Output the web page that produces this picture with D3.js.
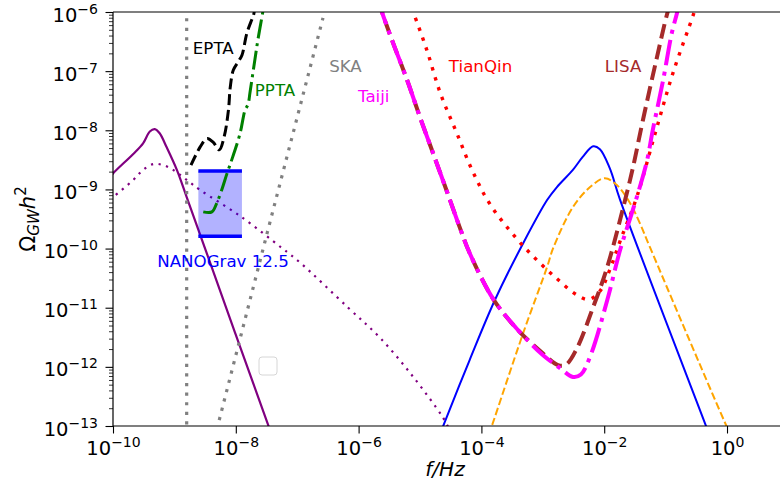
<!DOCTYPE html>
<html>
<head>
<meta charset="utf-8">
<script src="https://cdn.jsdelivr.net/npm/d3@7"></script>
<style>
  html, body { margin: 0; padding: 0; background: #fff; }
  svg { display: block; font-family: "DejaVu Sans", sans-serif; }
</style>
</head>
<body>
<svg id="chart" width="780" height="487"></svg>
<script>
// ---- Data: each point is [log10(f / Hz), log10(Omega_GW h^2)] ----
const modelSolid = [[-10.05,-8.80],[-10.0,-8.73],[-9.67,-8.40],[-9.51,-8.22],[-9.40,-8.02],[-9.32,-7.98],[-9.24,-8.05],
  [-9.13,-8.28],[-8.96,-8.67],[-8.80,-9.13],[-8.50,-10.00],[-7.46,-13.02],[-7.41,-13.15]];
const modelDotted = [[-10.05,-9.17],[-10.0,-9.13],[-9.67,-8.84],[-9.51,-8.67],[-9.34,-8.57],[-9.18,-8.59],[-9.02,-8.67],
  [-8.80,-8.84],[-8.58,-9.01],[-7.93,-9.45],[-7.25,-9.99],[-6.95,-10.24],[-6.17,-11.00],[-5.65,-11.51],
  [-5.11,-12.17],[-4.63,-12.85],[-4.54,-13.02]];
const ptaCutoff = [[-8.80,-13.3],[-8.80,-5.8]];
const ska = [[-8.27,-12.90],[-7.49,-9.74],[-6.58,-6.10]];
const epta = [[-8.73,-8.59],[-8.58,-8.28],[-8.47,-8.14],[-8.37,-8.20],[-8.27,-8.33],[-8.19,-8.11],
  [-8.12,-7.66],[-8.09,-7.27],[-8.04,-6.98],[-7.96,-6.84],[-7.90,-6.73],[-7.82,-6.36],[-7.74,-6.13],
  [-7.71,-6.05],[-7.69,-5.90]];
const ppta = [[-8.53,-9.38],[-8.39,-9.38],[-8.31,-9.23],[-8.23,-9.01],[-8.14,-8.72],[-8.05,-8.45],
  [-7.93,-8.05],[-7.85,-7.66],[-7.80,-7.56],[-7.77,-7.37],[-7.69,-6.81],[-7.64,-6.47],[-7.56,-6.00],[-7.54,-5.88]];
const nanogravF = [-8.61, -7.90];
const nanogravOmega = [-9.79, -8.69];
const blueModel = [[-4.69,-13.18],[-4.63,-13.02],[-4.19,-11.88],[-3.78,-10.87],[-3.32,-9.91],[-2.93,-9.18],
  [-2.77,-8.96],[-2.51,-8.67],[-2.35,-8.45],[-2.18,-8.27],[-2.07,-8.32],[-1.91,-8.64],[-1.74,-9.18],
  [-0.36,-12.95],[-0.31,-13.09]];
const orangeModel = [[-3.88,-13.15],[-3.83,-13.00],[-3.32,-11.43],[-2.93,-10.31],[-2.83,-9.99],[-2.51,-9.30],
  [-2.23,-8.96],[-1.99,-8.81],[-1.79,-8.93],[-1.58,-9.23],[-1.42,-9.57],[-1.25,-9.99],[0.0,-13.02],[0.07,-13.17]];
const tianqin = [[-5.19,-5.77],[-5.11,-6.00],[-4.89,-6.64],[-4.67,-7.37],[-4.40,-8.05],[-4.14,-8.70],
  [-3.86,-9.25],[-3.42,-9.84],[-3.09,-10.20],[-2.77,-10.51],[-2.45,-10.78],[-2.25,-10.86],[-2.07,-10.72],
  [-1.91,-10.36],[-1.74,-9.87],[-1.47,-9.13],[-1.17,-8.05],[-0.88,-7.03],[-0.55,-6.05],[-0.49,-5.85]];
const lisa = [[-5.68,-5.80],[-5.62,-6.00],[-5.44,-6.52],[-5.21,-7.15],[-5.00,-7.78],[-4.79,-8.38],[-4.56,-9.04],
  [-4.35,-9.65],[-4.19,-10.08],[-3.81,-10.85],[-3.42,-11.36],[-3.00,-11.77],[-2.75,-11.97],[-2.62,-11.96],
  [-2.45,-11.70],[-2.18,-10.99],[-1.95,-10.31],[-1.66,-9.18],[-1.53,-8.62],[-1.37,-7.83],[-1.14,-6.76],
  [-0.98,-6.05],[-0.93,-5.88]];
const taiji = [[-5.68,-5.80],[-5.62,-6.00],[-5.44,-6.52],[-5.21,-7.15],[-5.00,-7.78],[-4.79,-8.38],[-4.56,-9.04],
  [-4.35,-9.65],[-4.19,-10.08],[-3.81,-10.85],[-3.42,-11.36],[-3.00,-11.80],[-2.72,-12.02],[-2.51,-12.17],
  [-2.38,-12.13],[-2.22,-11.80],[-1.95,-10.87],[-1.74,-10.02],[-1.55,-9.40],[-1.42,-8.96],[-1.30,-8.50],
  [-1.21,-8.00],[-1.04,-7.15],[-0.90,-6.36],[-0.81,-6.00],[-0.78,-5.86]];
// Label texts and their anchor points (log10 f, log10 Omega)
const labelTexts = ["EPTA", "PPTA", "SKA", "Taiji", "TianQin", "LISA", "NANOGrav 12.5"];
const labelAt = [[-8.70,-6.71],[-7.69,-7.42],[-6.48,-7.015],[-6.01,-7.52],[-4.53,-7.015],[-1.99,-7.015],[-9.28,-10.31]];
const xTickExps = [-10, -8, -6, -4, -2, 0];
const yTickExps = [-6, -7, -8, -9, -10, -11, -12, -13];

// ---- Layout ----
const svg = d3.select("#chart");
const L = 113, R = 780, T = 12, B = 426;
const x = d3.scaleLog().domain([1e-10, Math.pow(10, 0.863)]).range([L, R]);
const y = d3.scaleLog().domain([1e-13, 1e-6]).range([B, T]);
const P = v => Math.pow(10, v);

svg.append("defs").append("clipPath").attr("id", "plotclip")
  .append("rect").attr("x", L).attr("y", T).attr("width", R - L).attr("height", B - T);
const g = svg.append("g").attr("clip-path", "url(#plotclip)");

const smooth = d3.line().x(d => x(P(d[0]))).y(d => y(P(d[1]))).curve(d3.curveCatmullRom.alpha(0.5));
const straight = d3.line().x(d => x(P(d[0]))).y(d => y(P(d[1])));

function draw(data, color, width, dash, gen) {
  g.append("path").attr("d", (gen || smooth)(data))
    .attr("fill", "none").attr("stroke", color).attr("stroke-width", width)
    .attr("stroke-dasharray", dash || null).attr("stroke-linejoin", "round");
}

draw(modelSolid, "purple", 2.2);
draw(modelDotted, "purple", 2.2, "2.2,5.5");
draw(ptaCutoff, "gray", 3.2, "3.2,6.4", straight);
draw(ska, "gray", 3.2, "3.2,6.4", straight);

// NANOGrav band
g.append("rect")
  .attr("x", x(P(nanogravF[0]))).attr("width", x(P(nanogravF[1])) - x(P(nanogravF[0])))
  .attr("y", y(P(nanogravOmega[1]))).attr("height", y(P(nanogravOmega[0])) - y(P(nanogravOmega[1])))
  .attr("fill", "blue").attr("fill-opacity", 0.3);
nanogravOmega.forEach(v => {
  g.append("line").attr("x1", x(P(nanogravF[0]))).attr("x2", x(P(nanogravF[1])))
    .attr("y1", y(P(v))).attr("y2", y(P(v))).attr("stroke", "blue").attr("stroke-width", 3.5);
});

draw(epta, "black", 3, "11,4.8");
draw(ppta, "green", 3, "19,4.8,3,4.8");
draw(blueModel, "blue", 2);
draw(orangeModel, "orange", 2, "7.4,3.2");
draw(tianqin, "red", 3.4, "3.4,7");
draw(lisa, "brown", 4, "14.8,6.4");
draw(taiji, "magenta", 4, "25.6,6.4,4,6.4");

// Labels
const labelColors = ["black", "green", "gray", "magenta", "red", "brown", "blue"];
labelTexts.forEach((t, i) => {
  svg.append("text").attr("x", x(P(labelAt[i][0]))).attr("y", y(P(labelAt[i][1])))
    .attr("font-size", 16.67).attr("fill", labelColors[i]).text(t);
});

// Empty legend box
svg.append("rect").attr("x", 259).attr("y", 357).attr("width", 18).attr("height", 18)
  .attr("rx", 3).attr("fill", "white").attr("fill-opacity", 0.8)
  .attr("stroke", "#d6d6d6").attr("stroke-width", 1);

// ---- Axes ----
const yMinor = [];
for (let e = -13; e < -6; e++) for (let m = 2; m <= 9; m++) yMinor.push(m * P(e));
svg.append("g").attr("transform", `translate(${L},0)`)
  .call(d3.axisLeft(y).tickValues(yMinor).tickSize(4).tickFormat(""))
  .call(s => s.select(".domain").remove())
  .selectAll("line").attr("stroke", "#000").attr("stroke-width", 0.8);

function supLabel(sel, exp, fs, sfs) {
  sel.text(null);
  sel.append("tspan").attr("font-size", fs).text("10");
  sel.append("tspan").attr("font-size", sfs).attr("dy", -8)
    .text((exp < 0 ? "\u2212" : "") + Math.abs(exp));
}

const yAx = svg.append("g").attr("transform", `translate(${L},0)`)
  .call(d3.axisLeft(y).tickValues(yTickExps.map(P)).tickSize(7.5).tickPadding(8).tickFormat(""));
yAx.select(".domain").remove();
yAx.selectAll(".tick line").attr("stroke", "#000").attr("stroke-width", 1.1);
yAx.selectAll(".tick").each(function(d) {
  const e = Math.round(Math.log10(d));
  const t = d3.select(this).select("text").attr("x", -15).attr("dy", null).attr("y", 9)
    .attr("fill", "#000").attr("font-family", "DejaVu Sans").attr("text-anchor", "end");
  supLabel(t, e, 19.5, 14);
});

const xAx = svg.append("g").attr("transform", `translate(0,${B})`)
  .call(d3.axisBottom(x).tickValues(xTickExps.map(P)).tickSize(7.5).tickFormat(""));
xAx.select(".domain").remove();
xAx.selectAll(".tick line").attr("stroke", "#000").attr("stroke-width", 1.1);
xAx.selectAll(".tick").each(function(d) {
  const e = Math.round(Math.log10(d));
  const t = d3.select(this).select("text").attr("y", 29).attr("dy", null)
    .attr("fill", "#000").attr("font-family", "DejaVu Sans").attr("text-anchor", "middle");
  supLabel(t, e, 19.5, 14);
});

// Spines
svg.append("line").attr("x1", L).attr("x2", L).attr("y1", T).attr("y2", B).attr("stroke", "#000").attr("stroke-width", 1.2);
svg.append("line").attr("x1", L).attr("x2", R).attr("y1", B).attr("y2", B).attr("stroke", "#000").attr("stroke-width", 1.2);
svg.append("line").attr("x1", L).attr("x2", R).attr("y1", T).attr("y2", T).attr("stroke", "#000").attr("stroke-width", 1.2);

// Axis titles
const xt = svg.append("text").attr("x", 445).attr("y", 476).attr("text-anchor", "middle")
  .attr("font-size", 20).attr("font-style", "italic");
xt.text("f/Hz");

const yt = svg.append("text").attr("transform", "translate(35,219) rotate(-90)")
  .attr("text-anchor", "middle").attr("font-size", 21);
yt.append("tspan").text("\u03A9");
yt.append("tspan").attr("font-size", 15).attr("font-style", "italic").attr("dy", 4).text("GW");
yt.append("tspan").attr("font-style", "italic").attr("dy", -4).text("h");
yt.append("tspan").attr("font-size", 15).attr("dy", -9).text("2");
</script>
</body>
</html>
